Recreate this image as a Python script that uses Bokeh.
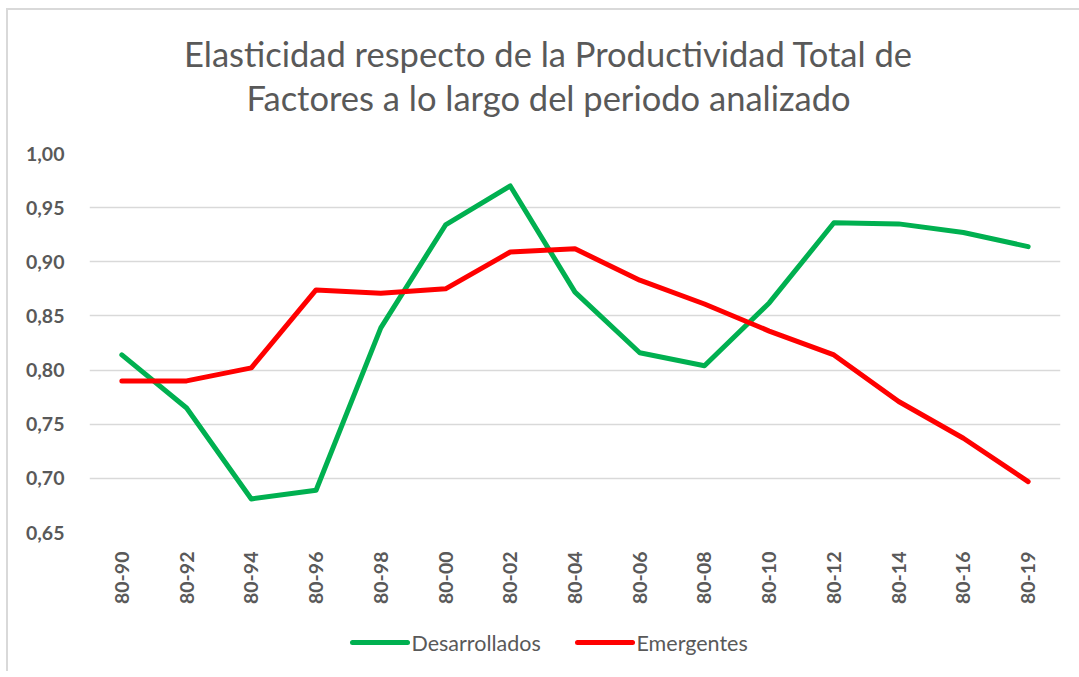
from bokeh.plotting import figure
from bokeh.layouts import column
from bokeh.models import FactorRange, Range1d, FixedTicker
from bokeh.core.properties import value
from bokeh.embed import file_html
from bokeh.resources import INLINE

periods = ["80-90", "80-92", "80-94", "80-96", "80-98", "80-00", "80-02", "80-04",
           "80-06", "80-08", "80-10", "80-12", "80-14", "80-16", "80-19"]
desarrollados = [0.814, 0.765, 0.681, 0.689, 0.839, 0.934, 0.970, 0.872,
                 0.816, 0.804, 0.862, 0.936, 0.935, 0.927, 0.914]
emergentes = [0.790, 0.790, 0.802, 0.874, 0.871, 0.875, 0.909, 0.912,
              0.883, 0.861, 0.836, 0.814, 0.771, 0.737, 0.697]
y_ticks = [0.65, 0.70, 0.75, 0.80, 0.85, 0.90, 0.95, 1.00]
y_tick_labels = ["0,65", "0,70", "0,75", "0,80", "0,85", "0,90", "0,95", "1,00"]
title_lines = ["Elasticidad respecto de la Productividad Total de",
               "Factores a lo largo del periodo analizado"]
series_names = ["Desarrollados", "Emergentes"]
series_colors = ["#00B050", "#FF0000"]

FONT = "Lato"
GRAY = "#595959"
W = 1071
BL, BR = 81, 19  # shared left/right borders so all frames align


def strip(height):
    fig = figure(width=W, height=height, x_range=Range1d(BL, W - BR), y_range=Range1d(0, height),
                 x_axis_type=None, y_axis_type=None, output_backend="svg",
                 toolbar_location=None, min_border_left=BL, min_border_right=BR,
                 min_border_top=0, min_border_bottom=0)
    fig.outline_line_color = None
    fig.xgrid.grid_line_color = None
    fig.ygrid.grid_line_color = None
    return fig


# --- header (title) ---
H0 = 131
head = strip(H0)
head.text(x=[540, 540], y=[H0 - 43, H0 - 87], text=title_lines,
          text_align="center", text_baseline="middle", text_font=value(FONT),
          text_font_size="34.5px", text_color=GRAY)

# --- main chart ---
p = figure(width=W, height=474, x_range=FactorRange(*periods),
           y_range=Range1d(0.65, 1.00), output_backend="svg", toolbar_location=None,
           min_border_left=BL, min_border_right=BR, min_border_top=12, min_border_bottom=83)
p.outline_line_color = None

p.line(periods, desarrollados, line_color=series_colors[0], line_width=5,
       line_join="round", line_cap="round")
p.line(periods, emergentes, line_color=series_colors[1], line_width=5,
       line_join="round", line_cap="round")

p.xgrid.grid_line_color = None
p.ygrid.grid_line_color = "#D9D9D9"
p.ygrid.grid_line_width = 1.5

p.yaxis.ticker = FixedTicker(ticks=y_ticks)
p.yaxis.major_label_overrides = {t: l for t, l in zip(y_ticks, y_tick_labels)}
for ax in (p.xaxis, p.yaxis):
    ax.axis_line_color = None
    ax.major_tick_line_color = None
    ax.minor_tick_line_color = None
    ax.major_label_text_font = FONT
    ax.major_label_text_font_style = "bold"
    ax.major_label_text_font_size = "19.5px"
    ax.major_label_text_color = GRAY
p.yaxis.major_label_standoff = 19
p.xaxis.major_label_orientation = 1.5708
p.xaxis.major_label_standoff = 13

# --- legend strip ---
H3 = 56
leg = strip(H3)
ly = H3 - 27
key_x0 = [344, 569]
leg.multi_line(xs=[[x, x + 55] for x in key_x0], ys=[[ly, ly] for _ in key_x0],
               line_color=series_colors, line_width=5, line_cap="round")
leg.text(x=[x + 59 for x in key_x0], y=[ly, ly], text=series_names,
         text_align="left", text_baseline="middle", text_font=value(FONT),
         text_font_size="21.5px", text_color=GRAY)

layout = column(head, p, leg, spacing=0,
                styles={"margin-left": "6px", "margin-top": "8px",
                        "border-left": "2px solid #D9D9D9",
                        "border-top": "2px solid #D9D9D9"})

open("out.html", "w").write(file_html(layout, INLINE))
